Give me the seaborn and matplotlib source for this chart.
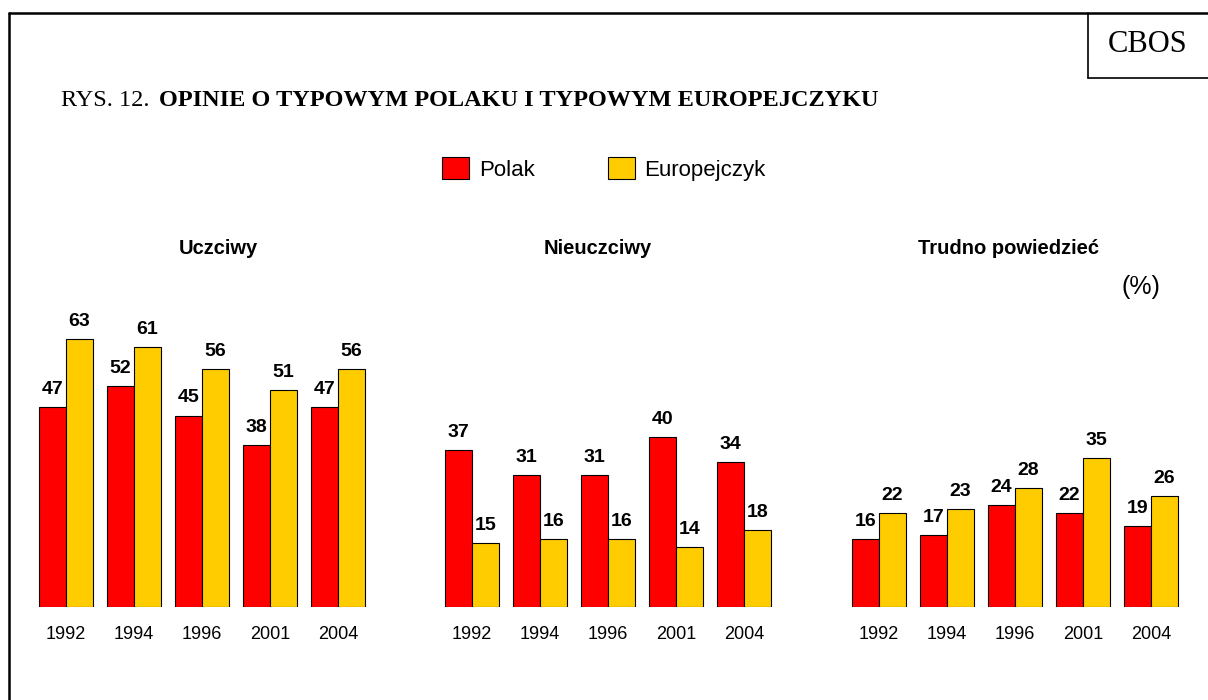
import pandas as pd
import matplotlib.pyplot as plt
from matplotlib.lines import Line2D
from matplotlib.patches import Patch
import seaborn as sns

# =========================================================================
# DATA
# =========================================================================
years = ["1992", "1994", "1996", "2001", "2004"]
series_names = ["Polak", "Europejczyk"]
panel_titles = ["Uczciwy", "Nieuczciwy", "Trudno powiedzieć"]

uczciwy_polak = [47, 52, 45, 38, 47]
uczciwy_europejczyk = [63, 61, 56, 51, 56]
nieuczciwy_polak = [37, 31, 31, 40, 34]
nieuczciwy_europejczyk = [15, 16, 16, 14, 18]
trudno_polak = [16, 17, 24, 22, 19]
trudno_europejczyk = [22, 23, 28, 35, 26]

panels = [
    (uczciwy_polak, uczciwy_europejczyk),
    (nieuczciwy_polak, nieuczciwy_europejczyk),
    (trudno_polak, trudno_europejczyk),
]

colors = ["#FF0000", "#FFCC00"]

# =========================================================================
# FIGURE SETUP
# =========================================================================
sns.set_theme(style="white")
plt.rcParams["font.family"] = ["Liberation Sans", "DejaVu Sans"]
plt.rcParams["text.color"] = "black"
plt.rcParams["xtick.color"] = "black"

W, H = 1208, 700
fig = plt.figure(figsize=(W / 100, H / 100), dpi=100)


def fx(px):
    return px / W


def fy(py):
    return 1 - py / H


# panel geometry in pixels
panel_left = [32, 438, 845]
bottom_px = 607
ymax = 70
px_per_unit = 4.255
height_px = ymax * px_per_unit

for i, (pol, eur) in enumerate(panels):
    ax = fig.add_axes([fx(panel_left[i]), fy(bottom_px), fx(340), height_px / H])
    df = pd.DataFrame({
        "year": years * 2,
        "group": [series_names[0]] * 5 + [series_names[1]] * 5,
        "value": pol + eur,
    })
    sns.barplot(data=df, x="year", y="value", hue="group", order=years,
                hue_order=series_names, palette=colors, width=0.8,
                edgecolor="black", linewidth=0.8, saturation=1,
                legend=False, ax=ax)
    for cont in ax.containers:
        ax.bar_label(cont, padding=6.5, fontsize=14, fontweight="bold", color="black")
    ax.set_xlim(-0.5, 4.5)
    ax.set_ylim(0, ymax)
    ax.set_xlabel("")
    ax.set_ylabel("")
    ax.set_yticks([])
    ax.tick_params(axis="x", length=0, pad=14, labelsize=13, labelcolor="black")
    sns.despine(ax=ax, left=True, bottom=True)
    ax.patch.set_alpha(0)

# panel titles
title_pos = [218, 598, 1008]
for t, x in zip(panel_titles, title_pos):
    fig.text(fx(x), fy(248), t, ha="center", va="center",
             fontsize=14.5, fontweight="bold")

fig.text(fx(1141), fy(287), "(%)", ha="center", va="center", fontsize=18)

# legend
handles = [Patch(facecolor=c, edgecolor="black", linewidth=0.8) for c in colors]
fig.legend(handles, series_names, loc="center",
           bbox_to_anchor=(fx(604), fy(169)), ncol=2, frameon=False,
           fontsize=16, handlelength=1.2, handleheight=1.1,
           handletextpad=0.45, columnspacing=3.3)

# main title (serif)
t1 = fig.text(fx(61), fy(101), "RYS. 12.", ha="left", va="center",
              fontsize=17.5, family=["Liberation Serif", "DejaVu Serif"])
fig.axes[0].annotate("OPINIE O TYPOWYM POLAKU I TYPOWYM EUROPEJCZYKU",
                     xy=(1, 0.5), xycoords=t1, xytext=(7, 0),
                     textcoords="offset points", ha="left", va="center",
                     fontsize=17.5, fontweight="bold",
                     family=["Liberation Serif", "DejaVu Serif"],
                     annotation_clip=False)

# CBOS box and frame
fig.text(fx(1148), fy(44), "CBOS", ha="center", va="center",
         fontsize=22, family=["Liberation Serif", "DejaVu Serif"])
fig.add_artist(Line2D([fx(1088), fx(1088)], [fy(13), fy(78)], color="black", lw=1.2))
fig.add_artist(Line2D([fx(1088), 1], [fy(78), fy(78)], color="black", lw=1.2))
fig.add_artist(Line2D([fx(9), 1], [fy(13), fy(13)], color="black", lw=1.8))
fig.add_artist(Line2D([fx(9), fx(9)], [0, fy(13)], color="black", lw=1.8))

plt.savefig("out.png", dpi=100)
plt.close()
